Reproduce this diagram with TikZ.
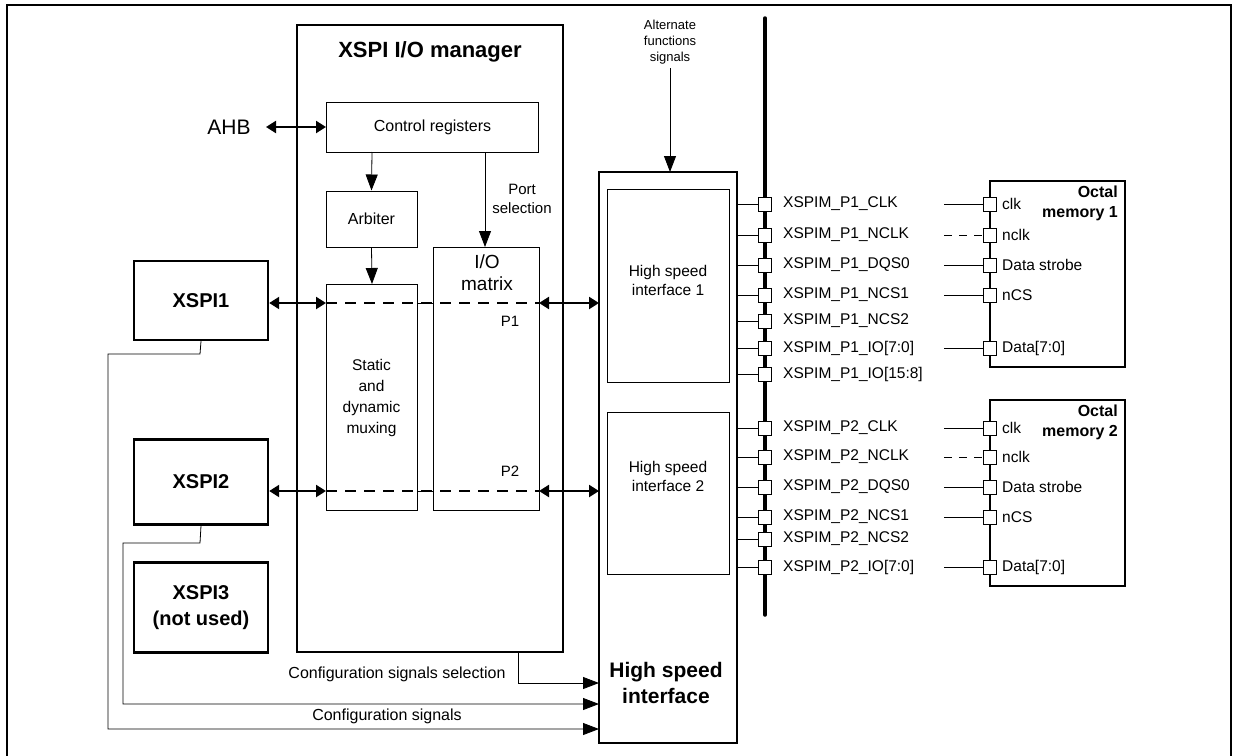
\documentclass[tikz,border=0pt]{standalone}
\usepackage{fontspec}
\setmainfont{Liberation Sans}
\usetikzlibrary{arrows.meta}
\newcommand\fsz[1]{\fontsize{#1}{#1}\selectfont}
\begin{document}
\begin{tikzpicture}[x=1pt,y=-1pt,
  box/.style={draw,line width=1pt},
  tbox/.style={draw,line width=2.4pt},
  tip/.style={-{Triangle[length=16pt,width=12pt]}},
  dbl/.style={{Triangle[length=10pt,width=12pt]}-{Triangle[length=10pt,width=12pt]},line width=2.2pt},
  pin/.style={draw,fill=white,line width=1pt,minimum width=13pt,minimum height=14pt,inner sep=0pt},
  lab/.style={font=\fsz{15.5},anchor=west,inner sep=1pt},
  small/.style={font=\fsz{15},align=center},
  sl/.style={}, dl/.style={dash pattern=on 8pt off 7pt}]
\useasboundingbox (0,0) rectangle (1239,755);
\draw[line width=1.4pt] (7,760) -- (7,5) -- (1231,5) -- (1231,760);
% IO manager
\draw[tbox] (297,25) rectangle (563,652);
\node[font=\bfseries\fsz{22}] (title) at (430,52) {XSPI I/O manager};
\node[box,minimum width=212pt,minimum height=50pt,font=\fsz{16}] (cr) at (432.5,127) {Control registers};
\node[font=\fsz{21}] (ahb) at (229,127) {AHB};
\draw[dbl] (266,127) -- (cr.west);
\node[box,minimum width=91pt,minimum height=56pt,font=\fsz{16}] (arb) at (371.5,219) {Arbiter};
\draw[box] (326,284) rectangle (417,510);
\coordinate (stTop) at (372,284);
\node[align=center,font=\fontsize{15.5}{21}\selectfont] (st) at (371.5,398) {Static\\and\\dynamic\\muxing};
\draw[box] (433,247) rectangle (539,510);
\coordinate (ioTop) at (485,247);
\node[align=center,font=\fontsize{19}{22}\selectfont] (io) at (487,273) {I/O\\matrix};
\node[align=center,font=\fontsize{15}{19}\selectfont] (ps) at (522,199) {Port\\selection};
\draw[tip,line width=0.8pt] (372,152) -- (arb.north);
\draw[tip,line width=0.8pt] (arb.south) -- (stTop);
\draw[tip,line width=0.8pt] (485,152) -- (ioTop);
\draw[line width=1.2pt,dash pattern=on 11pt off 8pt] (326,303) -- (539,303);
\draw[line width=1.2pt,dash pattern=on 11pt off 8pt] (326,491) -- (539,491);
\draw[line width=0.8pt] (417,303) -- (433,303) (417,491) -- (433,491);
\node[small] (p1) at (510,321) {P1};
\node[small] (p2) at (510,471) {P2};
% XSPI boxes
\node[tbox,minimum width=134pt,minimum height=79pt,font=\bfseries\fsz{20}] (x1) at (201,300.5) {XSPI1};
\node[tbox,minimum width=134pt,minimum height=85pt,font=\bfseries\fsz{20}] (x2) at (201,482) {XSPI2};
\node[tbox,minimum width=134pt,minimum height=90pt,align=center,font=\bfseries\fontsize{20}{26}\selectfont] (x3) at (201,607.5) {XSPI3\\(not used)};
\draw[dbl] (x1.east |- 0,303) -- (326,303);
\draw[dbl] (x2.east |- 0,491) -- (326,491);
\draw[dbl] (539,303) -- (599,303);
\draw[dbl] (539,491) -- (599,491);
% HSI
\draw[tbox] (599,172) rectangle (737,743);
\draw[box] (607,189) rectangle (729,382);
\draw[box] (607,412) rectangle (729,574);
\node[align=center,font=\fontsize{15.5}{19}\selectfont] (h1) at (668,280) {High speed\\interface 1};
\node[align=center,font=\fontsize{15.5}{19}\selectfont] (h2) at (668,476) {High speed\\interface 2};
\node[align=center,font=\bfseries\fontsize{21}{26}\selectfont] (hsi) at (666,683) {High speed\\interface};
\node[align=center,font=\fontsize{13}{16}\selectfont] (alt) at (670,42) {Alternate\\functions\\signals};
\coordinate (hsiTop) at (670,172);
\draw[tip,line width=0.8pt] (670,68) -- (hsiTop);
% config lines
\coordinate (c1) at (599,729);
\coordinate (c2) at (599,704);
\coordinate (c3) at (599,683);
\draw[tip,line width=0.8pt] (x1.south) -- (200,354) -- (108,354) -- (108,729) -- (c1);
\draw[tip,line width=0.8pt] (x2.south) -- (200,543) -- (123,543) -- (123,704) -- (c2);
\draw[tip,line width=0.8pt] (518,652) -- (518,683) -- (c3);
\node[font=\fsz{16},anchor=east] (csel) at (509,674) {Configuration signals selection};
\node[font=\fsz{16}] (cs) at (387,716) {Configuration signals};
% bus
\draw[line width=3.5pt,line cap=round] (765,18) -- (765,615);
\foreach \n/\y/\t in {a/204/XSPIM\_P1\_CLK,b/235/XSPIM\_P1\_NCLK,c/265/XSPIM\_P1\_DQS0,d/295/XSPIM\_P1\_NCS1,e/321/XSPIM\_P1\_NCS2,f/348/XSPIM\_P1\_IO[7:0],g/374/XSPIM\_P1\_IO[15:8],
  h/428/XSPIM\_P2\_CLK,i/457/XSPIM\_P2\_NCLK,j/487/XSPIM\_P2\_DQS0,k/517/XSPIM\_P2\_NCS1,l/539/XSPIM\_P2\_NCS2,m/567/XSPIM\_P2\_IO[7:0]}{
  \coordinate (s\n) at (737,\y);
  \node[pin] (p\n) at (765,\y) {};
  \draw[line width=1pt] (s\n) -- (p\n);
  \node[lab] at (782,\y) {\t};
}
% memories
\draw[tbox] (990,181) rectangle (1125,367);
\draw[tbox] (990,400) rectangle (1125,586);
\node[anchor=north east,align=right,font=\bfseries\fontsize{16}{20}\selectfont,inner sep=2pt] (m1) at (1120,184) {Octal\\memory 1};
\node[anchor=north east,align=right,font=\bfseries\fontsize{16}{20}\selectfont,inner sep=2pt] (m2) at (1120,403) {Octal\\memory 2};
\foreach \n/\y/\t/\s in {a/204/clk/sl,b/235/nclk/dl,c/265/Data strobe/sl,d/295/nCS/sl,f/348/Data[7:0]/sl,
  h/428/clk/sl,i/457/nclk/dl,j/487/Data strobe/sl,k/517/nCS/sl,m/567/Data[7:0]/sl}{
  \coordinate (e\n) at (944,\y);
  \node[pin] (q\n) at (990,\y) {};
  \draw[line width=1pt,\s] (e\n) -- (q\n);
  \node[lab] at (1001,\y) {\t};
}
\end{tikzpicture}
\end{document}
